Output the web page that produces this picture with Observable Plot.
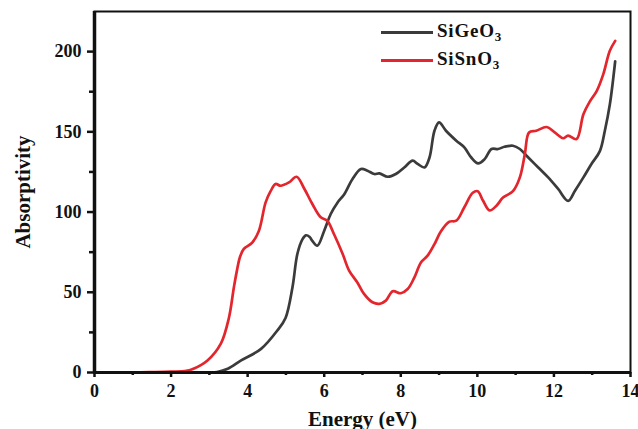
<!DOCTYPE html>
<html>
<head>
<meta charset="utf-8">
<script src="https://cdn.jsdelivr.net/npm/d3@7"></script>
<script src="https://cdn.jsdelivr.net/npm/@observablehq/plot@0.6"></script>
<style>
  html, body { margin: 0; padding: 0; background: #fff; }
  #wrap { position: relative; width: 638px; height: 429px; overflow: hidden; }
  #legend { position: absolute; left: 381px; top: 18px; font-family: "Liberation Serif", "Times New Roman", serif; font-weight: bold; font-size: 19px; letter-spacing: 0.8px; color: #111; }
  .row { display: flex; align-items: center; height: 28px; }
  .sw { width: 52px; height: 3px; margin-right: 4px; }
  sub { font-size: 13px; vertical-align: -4px; }
</style>
</head>
<body>
<div id="wrap"><div id="legend"></div></div>
<script>
// ---- Data ----
const seriesNames = ["SiGeO3", "SiSnO3"];
const seriesColors = ["#3b3b3b", "#e3262d"];

const geEnergy = [0, 2, 3.0, 3.2, 3.48, 3.83, 4.35, 4.77, 4.99, 5.17, 5.3, 5.43, 5.52, 5.62, 5.69, 5.82, 6.0, 6.17, 6.35, 6.52, 6.74, 6.96, 7.13, 7.31, 7.44, 7.66, 7.87, 8.09, 8.31, 8.44, 8.62, 8.75, 8.88, 9.0, 9.18, 9.45, 9.66, 9.84, 10.02, 10.19, 10.37, 10.54, 10.71, 10.93, 11.11, 11.33, 11.59, 11.85, 12.11, 12.37, 12.55, 12.77, 12.98, 13.2, 13.33, 13.46, 13.6];
const geAbs = [0, 0, 0, 0.3, 2.3, 7.5, 14.7, 26, 34, 53, 74, 83, 85.5, 84.5, 82, 79, 88.4, 98.8, 106, 111, 120.6, 126.8, 125.8, 123.7, 124.1, 122, 123.7, 127.8, 132, 130, 127.8, 134, 150.7, 155.9, 150.7, 144.5, 140.3, 134, 130.3, 133, 139.3, 139.3, 140.7, 141.3, 139.3, 134, 127.8, 121.6, 114.4, 107, 113.3, 121.6, 130, 138, 150.7, 167, 194];

const snEnergy = [0, 1, 1.5, 2.0, 2.4, 2.6, 2.95, 3.3, 3.51, 3.64, 3.72, 3.8, 3.9, 4.12, 4.29, 4.47, 4.6, 4.73, 4.86, 5.08, 5.28, 5.47, 5.69, 5.91, 6.08, 6.26, 6.48, 6.65, 6.87, 7.04, 7.26, 7.44, 7.61, 7.79, 8.0, 8.18, 8.35, 8.53, 8.7, 8.88, 9.05, 9.27, 9.45, 9.66, 9.88, 10.01, 10.15, 10.32, 10.5, 10.67, 10.93, 11.11, 11.24, 11.35, 11.54, 11.81, 12.02, 12.24, 12.37, 12.59, 12.77, 12.94, 13.12, 13.29, 13.46, 13.6];
const snAbs = [0, 0, 0.2, 0.5, 1, 2.5, 7.5, 18, 34, 53, 63.5, 72, 77, 81, 88, 106, 113, 117.5, 116.4, 118.5, 122, 115, 105, 96.7, 94.6, 86, 74, 63.5, 56, 49, 43.8, 42.8, 44.8, 50.6, 49.4, 52, 59, 68.7, 72.8, 80, 88, 94, 94.6, 103, 112, 113, 107, 101, 104, 109, 113, 121.6, 136, 149.6, 150.7, 153, 149.6, 146, 147.6, 145.5, 161, 169, 175.6, 186, 200.5, 206.7];

const xTicks = [0, 2, 4, 6, 8, 10, 12, 14];
const xMinor = [1, 3, 5, 7, 9, 11, 13];
const yTicks = [0, 50, 100, 150, 200];
const yMinor = [25, 75, 125, 175];

// ---- Build table ----
const rows = [
  ...geEnergy.map((e, i) => ({series: seriesNames[0], energy: e, abs: geAbs[i]})),
  ...snEnergy.map((e, i) => ({series: seriesNames[1], energy: e, abs: snAbs[i]}))
];

const font = {fontFamily: "'Liberation Serif', 'Times New Roman', serif", fontWeight: "bold", fontSize: "18px", color: "#111"};

const chart = Plot.plot({
  width: 638,
  height: 429,
  marginLeft: 94,
  marginRight: 8,
  marginTop: 11,
  marginBottom: 57,
  style: font,
  x: {domain: [0, 14]},
  y: {domain: [0, 225]},
  color: {domain: seriesNames, range: seriesColors},
  marks: [
    Plot.line(rows, {x: "energy", y: "abs", z: "series", stroke: "series", strokeWidth: 2.7, curve: "catmull-rom"}),
    Plot.frame({stroke: "#111", strokeWidth: 2}),
    Plot.ruleX([0], {stroke: "#111", strokeWidth: 3.5}),
    Plot.ruleY([0], {stroke: "#111", strokeWidth: 3}),
    Plot.axisX({ticks: xTicks, tickSize: 5, tickPadding: 7, tickFormat: d => String(d), label: null, strokeWidth: 2.5}),
    Plot.axisX({ticks: xMinor, tickSize: 3, text: null, label: null, strokeWidth: 2.5}),
    Plot.axisY({ticks: yTicks, tickSize: 7, tickPadding: 6, tickFormat: d => String(d), label: null, strokeWidth: 2.5}),
    Plot.axisY({ticks: yMinor, tickSize: 5, text: null, label: null, strokeWidth: 2.5}),
    Plot.text(["Energy (eV)"], {frameAnchor: "bottom", dy: 53, text: d => d, fontSize: 21, fontWeight: "bold", letterSpacing: "1px", fill: "#111"}),
    Plot.text(["Absorptivity"], {frameAnchor: "left", textAnchor: "middle", lineAnchor: "middle", dx: -71, rotate: -90, text: d => d, fontSize: 21, fontWeight: "bold", fill: "#111"})
  ]
});
document.getElementById("wrap").prepend(chart);
chart.style.position = "absolute";
chart.style.left = "0";
chart.style.top = "0";

// ---- Legend ----
const legend = document.getElementById("legend");
seriesNames.forEach((name, i) => {
  const row = document.createElement("div");
  row.className = "row";
  const sw = document.createElement("div");
  sw.className = "sw";
  sw.style.background = seriesColors[i];
  const label = document.createElement("span");
  label.innerHTML = name.replace(/(\d+)$/, "<sub>$1</sub>");
  row.appendChild(sw);
  row.appendChild(label);
  legend.appendChild(row);
});
</script>
</body>
</html>
